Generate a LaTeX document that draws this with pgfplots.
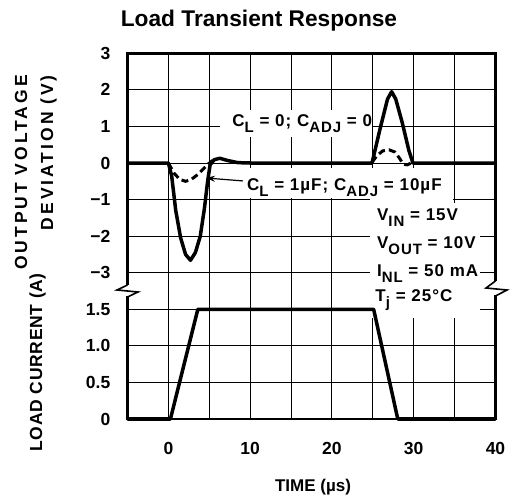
\documentclass[border=0pt]{standalone}
\usepackage{pgfplots}
\pgfplotsset{compat=1.18}
\usepackage{pgfplotstable}
\usetikzlibrary{arrows.meta}
\usepackage{fontspec}
\setmainfont{Liberation Sans}
\newfontfamily\lsp{Liberation Sans}[LetterSpace=17]
\newfontfamily\lsq{Liberation Sans}[LetterSpace=4]
\newfontfamily\lst{Liberation Sans}[LetterSpace=6]
\newcommand\fs[1]{\fontsize{#1}{#1}\selectfont}
\newcommand\sub[1]{\raisebox{-0.36em}{\fs{15bp}#1}}

% load current (A)
\pgfplotstableread{
x I
-5 0
0.25 0
3.6 1.5
25.1 1.5
28.05 0
40 0
}\current

% output voltage deviation, C_L = 0; C_ADJ = 0
\pgfplotstableread{
x V
-5 0
0 0
0.4 -0.35
0.9 -1.3
1.5 -2.05
2.1 -2.5
2.7 -2.66
3.3 -2.45
3.9 -2.0
4.4 -1.25
4.8 -0.5
5.1 -0.05
5.6 0.09
6.3 0.13
7.2 0.07
8.5 0.01
10 0
24.9 0
25.9 0.95
26.8 1.75
27.3 1.95
27.8 1.75
28.6 1.1
29.4 0.35
29.9 0
40 0
}\vzero

% output voltage deviation, C_L = 1uF; C_ADJ = 10uF (where it departs from the other)
\pgfplotstableread{
x V
0 0
0.7 -0.28
1.4 -0.45
2.1 -0.5
2.8 -0.45
3.5 -0.33
4.2 -0.18
4.8 -0.04
5.4 0.07
}\vonea
\pgfplotstableread{
x V
24.9 0.02
25.5 0.2
26.2 0.33
27.0 0.36
27.7 0.3
28.3 0.12
28.7 -0.03
29.2 -0.05
29.7 0
}\voneb

\begin{document}
\begin{tikzpicture}
\useasboundingbox (0,0) rectangle (510bp,499bp);
\begin{axis}[
  at={(127.5bp,80bp)}, anchor=south west,
  scale only axis, width=368bp, height=365.7bp,
  xmin=-5, xmax=40, ymin=-7, ymax=3,
  xtick={0,10,20,30,40}, xticklabels={0,10,20,30,40},
  minor xtick={5,15,25,35},
  ytick={-7,-6,-5,-4,-3,-2,-1,0,1,2,3},
  yticklabels={0,0.5,1.0,1.5,−3,−2,−1,0,1,2,3},
  grid=both,
  major grid style={black, line width=0.9bp},
  minor grid style={black, line width=0.9bp},
  major tick length=0pt, minor tick length=0pt,
  axis line style={black, line width=2.5bp},
  ticklabel style={font=\bfseries\fs{17.5bp}},
  xticklabel style={anchor=base, inner sep=0pt, yshift=-35bp},
  yticklabel style={anchor=east, inner sep=0pt, xshift=-17bp},
  clip=false,
]
% white backgrounds of the annotations
\fill[white] (axis cs:6.3,0.71) rectangle (axis cs:24.9,1.45);
\fill[white] (axis cs:9.1,-0.15) rectangle (axis cs:33.6,-0.95);
\fill[white] (axis cs:24.65,-0.96) rectangle (axis cs:34.8,-4.24);
\fill[white] (axis cs:34.8,-1.1) rectangle (axis cs:38.1,-4.24);

\addplot[black, line width=3.5bp, line join=round, line cap=round] table[x=x, y expr=2*\thisrow{I}-7] {\current};
\addplot[black, line width=3.5bp, line join=round, line cap=round] table[x=x, y=V] {\vzero};
\addplot[black, line width=3bp, dash pattern=on 7bp off 4bp] table[x=x, y=V] {\vonea};
\addplot[black, line width=3bp, dash pattern=on 7bp off 4bp] table[x=x, y=V] {\voneb};

\node[anchor=base west, inner sep=0pt, font=\lst\bfseries\fs{17bp}] at (axis cs:7.8,1.0) {C\sub{L} = 0; C\sub{ADJ} = 0};
\node[anchor=base west, inner sep=0pt, font=\lst\bfseries\fs{17bp}] at (axis cs:9.6,-0.74) {C\sub{L} = 1µF; C\sub{ADJ} = 10µF};
\draw[black, line width=1.2bp, -{Stealth[length=9bp,width=6bp]}] (axis cs:9.12,-0.49) -- (axis cs:4.6,-0.41);
\node[anchor=base west, inner sep=0pt, font=\lst\bfseries\fs{17bp}] at (axis cs:25.5,-1.56) {V\sub{IN} = 15V};
\node[anchor=base west, inner sep=0pt, font=\lst\bfseries\fs{17bp}] at (axis cs:25.5,-2.33) {V\sub{OUT} = 10V};
\node[anchor=base west, inner sep=0pt, font=\lst\bfseries\fs{17bp}] at (axis cs:25.5,-3.09) {I\sub{NL} = 50 mA};
\node[anchor=base west, inner sep=0pt, font=\lst\bfseries\fs{17bp}] at (axis cs:25.3,-3.79) {T\sub{j} = 25°C};
\end{axis}

% axis breaks
\fill[white] (124bp,202.5bp) rectangle (131bp,213.5bp);
\draw[black, line width=1.6bp, line join=miter] (127.5bp,214bp) -- (117bp,209bp) -- (138bp,207bp) -- (127.5bp,202bp);
\fill[white] (492bp,203.5bp) rectangle (499bp,217.5bp);
\draw[black, line width=1.6bp, line join=miter] (495.5bp,218bp) -- (486bp,211bp) -- (507bp,209bp) -- (495.5bp,203bp);

% titles and axis labels
\node[anchor=base, inner sep=0pt, font=\bfseries\fs{22.7bp}] at (259bp,472.3bp) {Load Transient Response};
\node[rotate=90, anchor=base east, inner sep=0pt, font=\lsp\bfseries\fs{17.5bp}] at (27bp,424bp) {OUTPUT VOLTAGE};
\node[rotate=90, anchor=base east, inner sep=0pt, font=\lsp\bfseries\fs{17.5bp}] at (53bp,424bp) {DEVIATION (V)};
\node[rotate=90, anchor=base east, inner sep=0pt, font=\lsq\bfseries\fs{17.5bp}] at (42bp,226bp) {LOAD CURRENT (A)};
\node[anchor=base, inner sep=0pt, font=\bfseries\fs{17bp}] at (313bp,8bp) {TIME (µs)};
\end{tikzpicture}
\end{document}
